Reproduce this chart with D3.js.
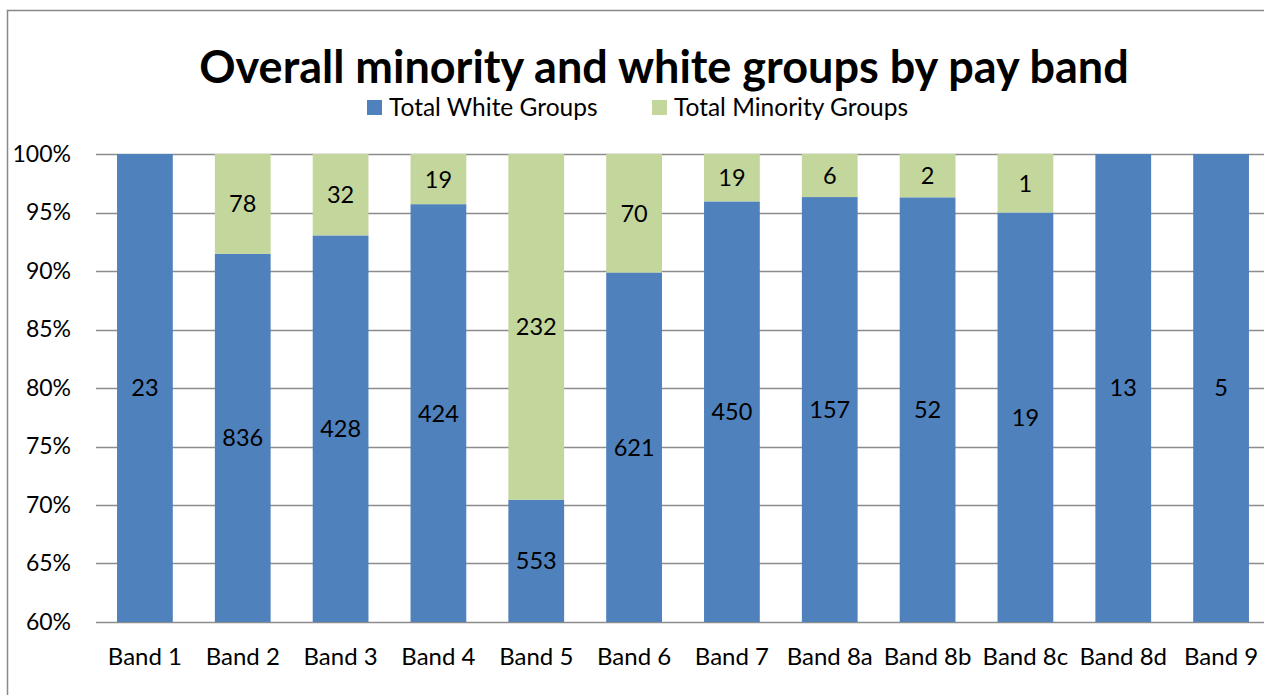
<!DOCTYPE html>
<html>
<head>
<meta charset="utf-8">
<script src="https://cdn.jsdelivr.net/npm/d3@7"></script>
<style>
  html, body { margin: 0; padding: 0; background: #fff; overflow: hidden; }
  svg { display: block; font-family: Lato, "Open Sans", sans-serif; }
</style>
</head>
<body>
<svg id="chart" width="1264" height="695"></svg>
<script>
// Pay bands and head counts per group
const categories = ["Band 1", "Band 2", "Band 3", "Band 4", "Band 5", "Band 6",
                    "Band 7", "Band 8a", "Band 8b", "Band 8c", "Band 8d", "Band 9"];
const whiteCounts = [23, 836, 428, 424, 553, 621, 450, 157, 52, 19, 13, 5];
const minorityCounts = [0, 78, 32, 19, 232, 70, 19, 6, 2, 1, 0, 0];
const seriesNames = ["Total White Groups", "Total Minority Groups"];
const seriesColors = ["#4F81BD", "#C3D69B"];
const yTicks = [0.6, 0.65, 0.7, 0.75, 0.8, 0.85, 0.9, 0.95, 1.0];

const svg = d3.select("#chart");
const plot = { left: 96, right: 1270, top: 154, bottom: 622 };

// Outer chart frame
svg.append("rect")
  .attr("x", 7.5).attr("y", 10.5)
  .attr("width", 1300).attr("height", 800)
  .attr("fill", "#fff").attr("stroke", "#888").attr("stroke-width", 1.5);

const x = d3.scaleBand()
  .domain(categories)
  .range([plot.left, plot.right])
  .paddingInner(0.43)
  .paddingOuter(0.215);

const y = d3.scaleLinear().domain([0.6, 1]).range([plot.bottom, plot.top]);

// Gridlines
svg.append("g").selectAll("line")
  .data(yTicks)
  .join("line")
  .attr("x1", plot.left).attr("x2", plot.right)
  .attr("y1", d => Math.round(y(d)) + 0.5).attr("y2", d => Math.round(y(d)) + 0.5)
  .attr("stroke", "#8c8c8c").attr("stroke-width", 1.5);

// Stacked shares (100% stack)
const rows = categories.map((c, i) => {
  const total = whiteCounts[i] + minorityCounts[i];
  return { cat: c, white: whiteCounts[i], minority: minorityCounts[i],
           wShare: whiteCounts[i] / total };
});

const segments = [];
rows.forEach(r => {
  segments.push({ cat: r.cat, s: 0, y0: 0, y1: r.wShare, v: r.white });
  if (r.minority > 0) segments.push({ cat: r.cat, s: 1, y0: r.wShare, y1: 1, v: r.minority });
});

const lo = y.domain()[0];
const bars = svg.append("g");
bars.selectAll("rect")
  .data(segments)
  .join("rect")
  .attr("x", d => x(d.cat))
  .attr("width", x.bandwidth())
  .attr("y", d => y(d.y1))
  .attr("height", d => y(Math.max(d.y0, lo)) - y(d.y1))
  .attr("fill", d => seriesColors[d.s]);

// Value labels centred in the visible part of each segment
bars.selectAll("text")
  .data(segments)
  .join("text")
  .attr("x", d => x(d.cat) + x.bandwidth() / 2)
  .attr("y", d => (y(Math.max(d.y0, lo)) + y(d.y1)) / 2)
  .attr("dy", "0.36em")
  .attr("text-anchor", "middle")
  .attr("font-size", 23.5)
  .attr("fill", "#000")
  .text(d => d.v);

// Y axis labels
const yAxis = d3.axisLeft(y).tickValues(yTicks).tickFormat(d3.format(".0%")).tickSize(0).tickPadding(0);
const gy = svg.append("g").attr("transform", `translate(71,0)`).call(yAxis);
gy.select(".domain").remove();
gy.selectAll("text").attr("font-size", 23).attr("fill", "#000").attr("font-family", "Lato, sans-serif");

// X axis labels
const xAxis = d3.axisBottom(x).tickSize(0).tickPadding(0);
const gx = svg.append("g").attr("transform", `translate(0,${plot.bottom + 26})`).call(xAxis);
gx.select(".domain").remove();
gx.selectAll("text").attr("font-size", 24).attr("fill", "#000").attr("font-family", "Lato, sans-serif");

// Title
svg.append("text")
  .attr("x", 664).attr("y", 83)
  .attr("text-anchor", "middle")
  .attr("font-size", 45).attr("font-weight", "bold")
  .text("Overall minority and white groups by pay band");

// Legend
const legendX = [367, 652];
const legend = svg.append("g");
seriesNames.forEach((name, i) => {
  legend.append("rect")
    .attr("x", legendX[i]).attr("y", 100)
    .attr("width", 15).attr("height", 15)
    .attr("fill", seriesColors[i]);
  legend.append("text")
    .attr("x", legendX[i] + 22).attr("y", 116)
    .attr("font-size", 24.5)
    .text(name);
});
</script>
</body>
</html>
